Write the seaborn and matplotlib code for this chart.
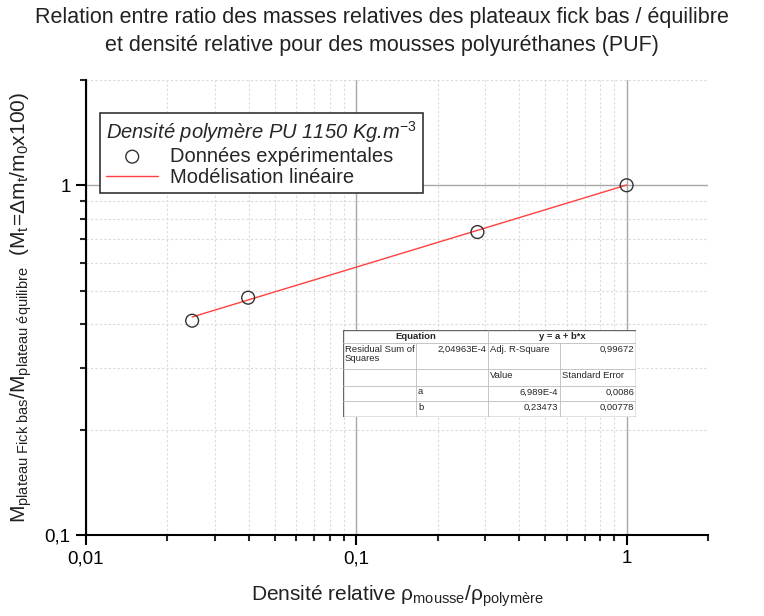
import numpy as np
import pandas as pd
import matplotlib
matplotlib.use("Agg")
import matplotlib.pyplot as plt
import seaborn as sns
from matplotlib.ticker import LogLocator, FixedLocator, FuncFormatter, NullFormatter

# ---- data ----
rel_density = [0.0247, 0.0398, 0.2806, 1.0]
mass_ratio = [0.410, 0.477, 0.735, 1.0]
fit_a = 6.989e-4
fit_b = 0.23473
x_ticks = [0.01, 0.1, 1]
x_tick_labels = ["0,01", "0,1", "1"]
y_ticks = [0.1, 1]
y_tick_labels = ["0,1", "1"]
table_rows = [
    ["Residual Sum of\nSquares", "2,04963E-4", "Adj. R-Square", "0,99672"],
    ["", "", "Value", "Standard Error"],
    ["", "a", "6,989E-4", "0,0086"],
    ["", "b", "0,23473", "0,00778"],
]

sns.set_theme(style="white")
plt.rcParams['font.family'] = ['Liberation Sans', 'DejaVu Sans']
plt.rcParams['mathtext.fontset'] = 'custom'
plt.rcParams['mathtext.rm'] = 'Liberation Sans'
plt.rcParams['mathtext.it'] = 'Liberation Sans:italic'

fig = plt.figure(figsize=(7.64, 6.16), dpi=100)
ax = fig.add_axes([86/764, 1-535/616, (708-86)/764, (535-80)/616])

df = pd.DataFrame({"x": rel_density, "y": mass_ratio})
xfit = np.logspace(np.log10(min(rel_density)), np.log10(max(rel_density)), 50)
yfit = 10 ** (fit_a + fit_b * np.log10(xfit))
fit_df = pd.DataFrame({"x": xfit, "y": yfit})

sns.lineplot(data=fit_df, x="x", y="y", ax=ax, color="#ff4040", lw=1.0,
             label="Modélisation linéaire", zorder=3)
sns.scatterplot(data=df, x="x", y="y", ax=ax, marker="o", s=85,
                facecolor="none", edgecolor="#333333", linewidth=1.0,
                label="Données expérimentales", zorder=4)

ax.set_xscale("log")
ax.set_yscale("log")
ax.set_xlim(0.01, 2)
ax.set_ylim(0.1, 2)

ax.xaxis.set_major_locator(FixedLocator(x_ticks))
ax.xaxis.set_major_formatter(FuncFormatter(lambda v, p: dict(zip(x_ticks, x_tick_labels)).get(v, "")))
ax.yaxis.set_major_locator(FixedLocator(y_ticks))
ax.yaxis.set_major_formatter(FuncFormatter(lambda v, p: dict(zip(y_ticks, y_tick_labels)).get(v, "")))
ax.xaxis.set_minor_locator(LogLocator(base=10, subs=np.arange(2, 10)))
ax.yaxis.set_minor_locator(LogLocator(base=10, subs=np.arange(2, 10)))
ax.xaxis.set_minor_formatter(NullFormatter())
ax.yaxis.set_minor_formatter(NullFormatter())

ax.tick_params(axis="both", which="major", direction="out", length=7, width=1.5,
               labelsize=13.5, colors="black", bottom=True, left=True, pad=4)
ax.tick_params(axis="both", which="minor", direction="out", length=4, width=1.5,
               bottom=True, left=True)

ax.grid(which="major", color="#a8a8a8", lw=1.0, ls="-", zorder=0)
ax.grid(which="minor", color="#dadada", lw=0.8, ls=(0, (2, 2)), zorder=0)
ax.set_axisbelow(True)

for s in ["top", "right"]:
    ax.spines[s].set_visible(False)
for s in ["left", "bottom"]:
    ax.spines[s].set_color("black")
    ax.spines[s].set_linewidth(1.5)

ax.set_xlabel(r"Densité relative $\mathregular{\rho_{mousse}/\rho_{polymère}}$",
              fontsize=15, labelpad=12, color="#222222")
ax.set_ylabel(r"$\mathregular{M_{plateau\ Fick\ bas}/M_{plateau\ équilibre}\ \ (M_t\!=\!\Delta m_t/m_0x100)}$",
              fontsize=15, labelpad=8, color="#222222")

fig.suptitle("Relation entre ratio des masses relatives des plateaux fick bas / équilibre\n"
             "et densité relative pour des mousses polyuréthanes (PUF)",
             fontsize=15.5, y=0.988, color="#222222", linespacing=1.4)

# legend with reversed order (points first)
handles, labels = ax.get_legend_handles_labels()
leg = ax.legend(handles[::-1], labels[::-1],
                title=r"Densité polymère PU 1150 Kg.m$^{-3}$",
                loc="upper left", bbox_to_anchor=(14/622, 1-33/455),
                fontsize=14.5, title_fontsize=14.5, frameon=True, fancybox=False,
                borderpad=0.3, labelspacing=0.1, handlelength=2.6,
                handletextpad=0.6, borderaxespad=0.0)
leg.get_title().set_fontstyle("italic")
leg._legend_box.align = "left"
leg.get_frame().set_edgecolor("#333333")
leg.get_frame().set_linewidth(1.2)
leg.get_frame().set_alpha(1)

# ---- fit table ----
tx0, ty0, tx1, ty1 = 343, 330, 636, 417
tax = fig.add_axes([tx0/764, 1-ty1/616, (tx1-tx0)/764, (ty1-ty0)/616])
W, H = tx1 - tx0, ty1 - ty0
tax.set_xlim(0, W)
tax.set_ylim(H, 0)
tax.axis("off")
tax.add_patch(plt.Rectangle((0, 0), W, H, facecolor="white", edgecolor="#666666", lw=1.0))
cols = [0, 73, 145, 217, W]
rows = [0, 13, 39, 56, 71, H]
lc = "#bbbbbb"
for r in rows[1:-1]:
    tax.plot([0, W], [r, r], color=lc, lw=0.6)
tax.plot([cols[2], cols[2]], [0, H], color=lc, lw=0.6)
for c in [cols[1], cols[3]]:
    tax.plot([c, c], [rows[1], H], color=lc, lw=0.6)
fs = 6.8
tax.text((cols[0]+cols[2])/2, rows[1]/2, "Equation", ha="center", va="center", fontsize=fs, weight="bold")
tax.text((cols[2]+cols[4])/2, rows[1]/2, "y = a + b*x", ha="center", va="center", fontsize=fs, weight="bold")
for i, row in enumerate(table_rows):
    ytop = rows[i+1]
    for j, txt in enumerate(row):
        if not txt:
            continue
        right = (j == 1 and i == 0) or (j == 3 and i != 1) or (j == 2 and i >= 2)
        if right:
            tax.text(cols[j+1]-2, ytop+1.5, txt, ha="right", va="top", fontsize=fs)
        else:
            tax.text(cols[j]+2, ytop+1.5, txt, ha="left", va="top", fontsize=fs, linespacing=1.05)

fig.savefig("out.png", dpi=100)
